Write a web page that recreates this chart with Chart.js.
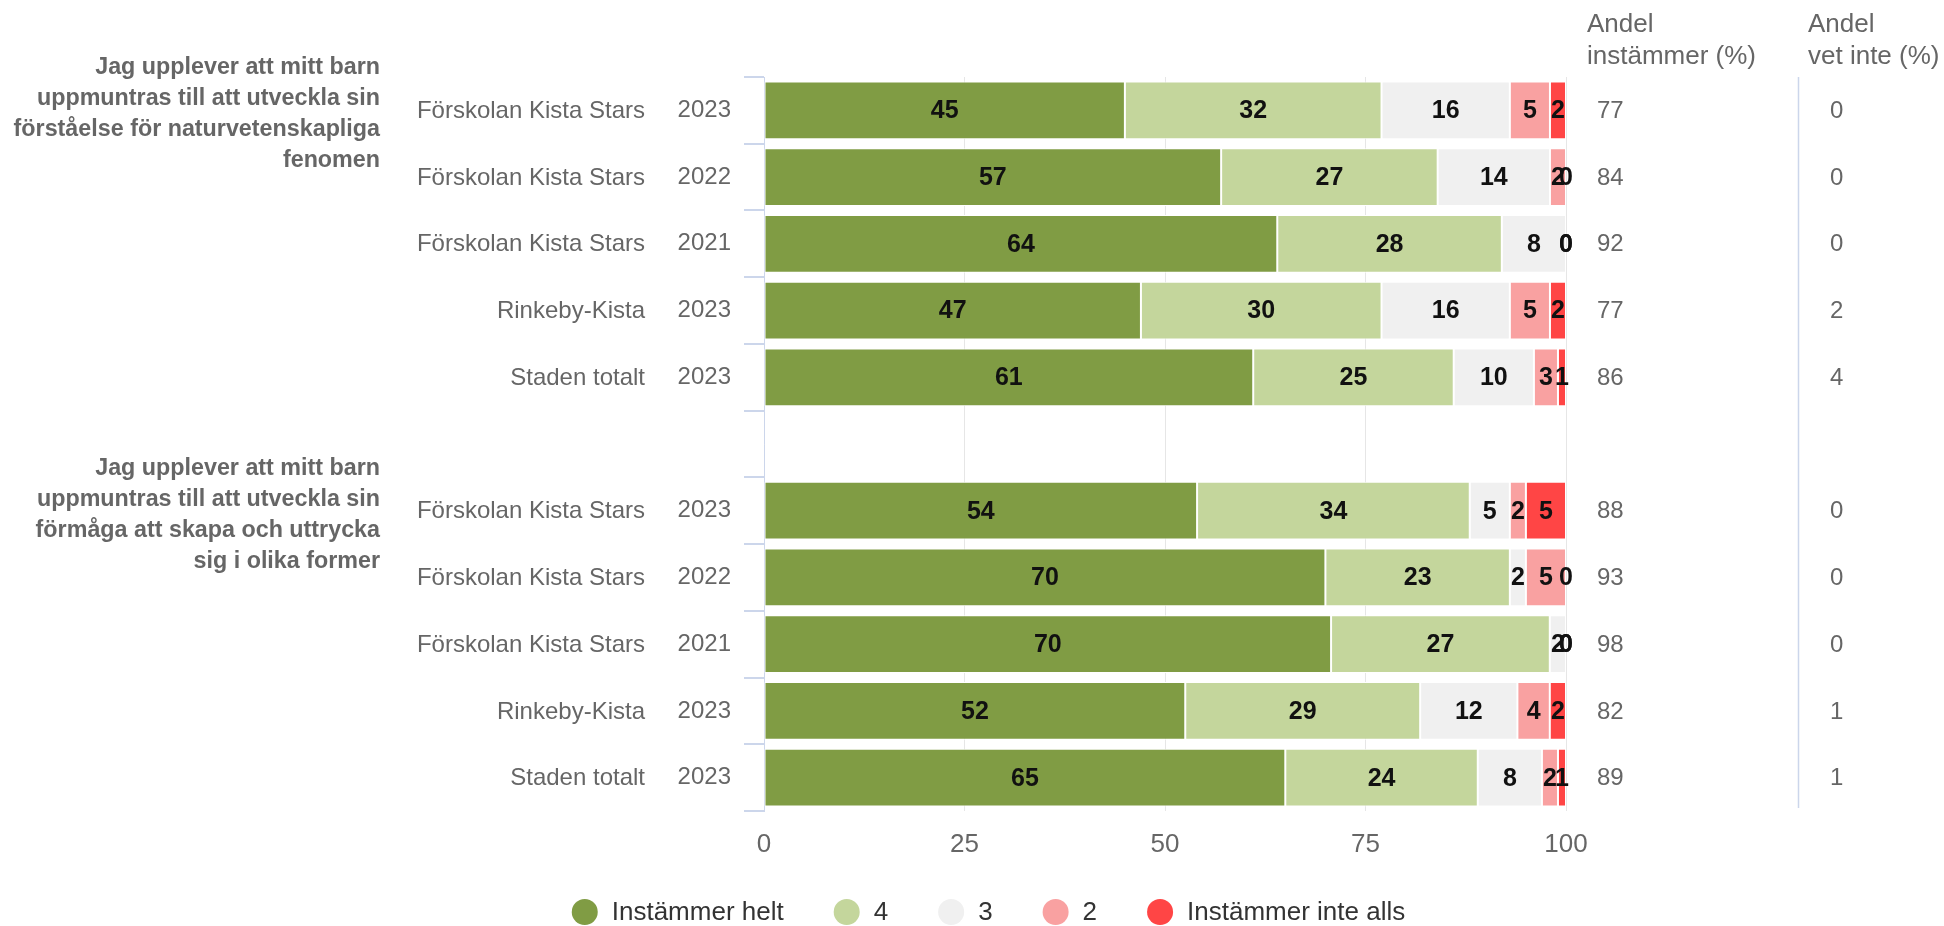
<!DOCTYPE html>
<html lang="sv">
<head>
<meta charset="utf-8">
<title>Förskoleenkät</title>
<script src="https://cdn.jsdelivr.net/npm/chart.js@4.4.1/dist/chart.umd.min.js"></script>
<style>
  html, body { margin: 0; padding: 0; background: #fff; }
  #chart-container { position: relative; width: 1944px; height: 926px; }
</style>
</head>
<body>
<div id="chart-container"><canvas id="myChart"></canvas></div>
<script>
const FONT = '"Liberation Sans", Arial, Helvetica, sans-serif';

// one entry per bar row, '' / null = the empty row between the two questions
const units = ['Förskolan Kista Stars', 'Förskolan Kista Stars', 'Förskolan Kista Stars', 'Rinkeby-Kista', 'Staden totalt', '',
  'Förskolan Kista Stars', 'Förskolan Kista Stars', 'Förskolan Kista Stars', 'Rinkeby-Kista', 'Staden totalt'];
const years = ['2023', '2022', '2021', '2023', '2023', '', '2023', '2022', '2021', '2023', '2023'];

const instammerHelt = [45, 57, 64, 47, 61, null, 54, 70, 70, 52, 65];
const svar4 = [32, 27, 28, 30, 25, null, 34, 23, 27, 29, 24];
const svar3 = [16, 14, 8, 16, 10, null, 5, 2, 2, 12, 8];
const svar2 = [5, 2, 0, 5, 3, null, 2, 5, 0, 4, 2];
const instammerInteAlls = [2, 0, 0, 2, 1, null, 5, 0, 0, 2, 1];

const andelInstammer = [77, 84, 92, 77, 86, null, 88, 93, 98, 82, 89];
const andelVetInte = [0, 0, 0, 2, 4, null, 0, 0, 0, 1, 1];

const seriesNames = ['Instämmer helt', '4', '3', '2', 'Instämmer inte alls'];
const seriesColors = ['#809c44', '#c4d69c', '#f0f0f0', '#f9a1a1', '#ff4545'];

const question1 = ['Jag upplever att mitt barn', 'uppmuntras till att utveckla sin', 'förståelse för naturvetenskapliga', 'fenomen'];
const question2 = ['Jag upplever att mitt barn', 'uppmuntras till att utveckla sin', 'förmåga att skapa och uttrycka', 'sig i olika former'];
const questionFirstRow = [0, 6];

const series = [instammerHelt, svar4, svar3, svar2, instammerInteAlls];
// bars are stacked as percent of the row total (like the original)
const rowTotals = years.map((y, i) => y ? series.reduce((s, arr) => s + arr[i], 0) : null);

const datasets = series.map((arr, k) => ({
  label: seriesNames[k],
  data: arr.map((v, i) => v === null ? null : v / rowTotals[i] * 100),
  rawValues: arr,
  backgroundColor: seriesColors[k],
  borderColor: '#ffffff',
  borderWidth: 1,
  borderSkipped: false,
  barPercentage: 0.865,
  categoryPercentage: 1,
}));

const barLabels = {
  id: 'barLabels',
  afterDatasetsDraw(chart) {
    const ctx = chart.ctx;
    ctx.save();
    ctx.font = 'bold 25px ' + FONT;
    ctx.fillStyle = '#111';
    ctx.textAlign = 'center';
    ctx.textBaseline = 'middle';
    chart.data.datasets.forEach((ds, k) => {
      chart.getDatasetMeta(k).data.forEach((el, i) => {
        const v = ds.rawValues[i];
        if (v === null) return;
        const { x, base, y } = el.getProps(['x', 'base', 'y'], true);
        ctx.fillText(String(v), (x + base) / 2, y + 1);
      });
    });
    ctx.restore();
  }
};

const sideTexts = {
  id: 'sideTexts',
  afterDraw(chart) {
    const ctx = chart.ctx;
    const yScale = chart.scales.y;
    const area = chart.chartArea;
    ctx.save();

    // unit names left of the years
    ctx.font = '24px ' + FONT;
    ctx.fillStyle = '#666';
    ctx.textAlign = 'right';
    ctx.textBaseline = 'middle';
    units.forEach((u, i) => {
      if (u) ctx.fillText(u, 645, yScale.getPixelForValue(i) + 1);
    });

    // question titles, centred on the first row of each group
    ctx.font = 'bold 23.3px ' + FONT;
    [question1, question2].forEach((lines, q) => {
      const cy = yScale.getPixelForValue(questionFirstRow[q]) + 4;
      lines.forEach((line, j) => {
        ctx.fillText(line, 380, cy + (j - (lines.length - 1) / 2) * 31);
      });
    });

    // right-hand columns
    ctx.textAlign = 'left';
    ctx.font = '26px ' + FONT;
    ctx.textBaseline = 'alphabetic';
    ctx.fillText('Andel', 1587, 32);
    ctx.fillText('instämmer (%)', 1587, 64);
    ctx.fillText('Andel', 1808, 32);
    ctx.fillText('vet inte (%)', 1808, 64);

    ctx.font = '24px ' + FONT;
    ctx.textBaseline = 'middle';
    andelInstammer.forEach((v, i) => {
      if (v !== null) ctx.fillText(String(v), 1597, yScale.getPixelForValue(i) + 1);
    });
    andelVetInte.forEach((v, i) => {
      if (v !== null) ctx.fillText(String(v), 1830, yScale.getPixelForValue(i) + 1);
    });

    ctx.strokeStyle = '#ccd6eb';
    ctx.lineWidth = 1.5;
    ctx.beginPath();
    ctx.moveTo(1798.5, area.top);
    ctx.lineTo(1798.5, area.bottom - 3);
    ctx.stroke();

    // legend
    ctx.font = '26px ' + FONT;
    const r = 13, textGap = 27, itemGap = 50;
    const widths = seriesNames.map(n => ctx.measureText(n).width);
    const total = widths.reduce((s, w) => s + r + textGap + w, 0) + itemGap * (seriesNames.length - 1);
    let x = 988.5 - total / 2;
    const ly = 912;
    seriesNames.forEach((n, k) => {
      ctx.fillStyle = seriesColors[k];
      ctx.beginPath();
      ctx.arc(x + r, ly, r, 0, Math.PI * 2);
      ctx.fill();
      ctx.fillStyle = '#333';
      ctx.fillText(n, x + r + textGap, ly + 1);
      x += r + textGap + widths[k] + itemGap;
    });

    ctx.restore();
  }
};

new Chart(document.getElementById('myChart').getContext('2d'), {
  type: 'bar',
  data: { labels: years, datasets },
  options: {
    indexAxis: 'y',
    responsive: true,
    maintainAspectRatio: false,
    animation: false,
    events: [],
    layout: { padding: { top: 77, right: 378, bottom: 0, left: 0 } },
    plugins: {
      legend: { display: false },
      tooltip: { enabled: false },
    },
    scales: {
      x: {
        type: 'linear',
        stacked: true,
        min: 0,
        max: 100,
        ticks: { stepSize: 25, font: { size: 26, family: FONT }, color: '#666', padding: 18 },
        grid: { color: '#e6e6e6', drawTicks: false },
        border: { display: false },
        afterFit: scale => { scale.height = 115; },
      },
      y: {
        type: 'category',
        stacked: true,
        offset: true,
        ticks: { font: { size: 24, family: FONT }, color: '#666', padding: 13, autoSkip: false },
        grid: { offset: true, drawOnChartArea: false, drawTicks: true, tickLength: 20, color: '#ccd6eb', lineWidth: 2 },
        border: { color: '#ccd6eb', width: 1 },
        afterFit: scale => { scale.width = 764; },
      },
    },
  },
  plugins: [barLabels, sideTexts],
});
</script>
</body>
</html>
